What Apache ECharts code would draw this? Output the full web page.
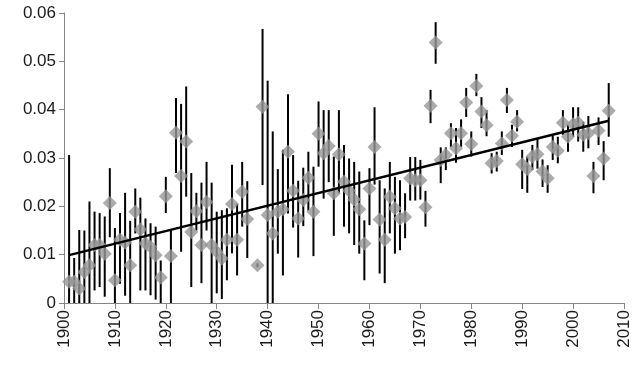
<!DOCTYPE html>
<html>
<head>
<meta charset="utf-8">
<script src="https://cdn.jsdelivr.net/npm/echarts@6/dist/echarts.min.js"></script>
<style>
html,body{margin:0;padding:0;background:#fff;}
#chart{width:640px;height:369px;}
</style>
</head>
<body>
<div id="chart"></div>
<script>
const years = [1901,1902,1903,1904,1905,1906,1907,1908,1909,1910,
  1911,1912,1913,1914,1915,1916,1917,1918,1919,1920,
  1921,1922,1923,1924,1925,1926,1927,1928,1929,1930,
  1931,1932,1933,1934,1935,1936,1938,1939,1940,
  1941,1942,1943,1944,1945,1946,1947,1948,1949,1950,
  1951,1952,1953,1954,1955,1956,1957,1958,1959,1960,
  1961,1962,1963,1964,1965,1966,1967,1968,1969,1970,
  1971,1972,1973,1974,1975,1976,1977,1978,1979,1980,
  1981,1982,1983,1984,1985,1986,1987,1988,1989,1990,
  1991,1992,1993,1994,1995,1996,1997,1998,1999,2000,
  2001,2002,2003,2004,2005,2006,2007];
const values = [0.0044,0.0044,0.0030,0.0064,0.0078,0.0120,0.0120,0.0102,0.0207,0.0047,
  0.0131,0.0125,0.0078,0.0189,0.0152,0.0123,0.0116,0.0099,0.0053,0.0221,
  0.0097,0.0352,0.0263,0.0334,0.0147,0.0190,0.0120,0.0209,0.0120,0.0106,
  0.0092,0.0131,0.0205,0.0131,0.0230,0.0174,0.0078,0.0406,0.0182,
  0.0144,0.0189,0.0194,0.0313,0.0232,0.0175,0.0213,0.0259,0.0189,0.0350,
  0.0310,0.0325,0.0227,0.0308,0.0251,0.0232,0.0214,0.0194,0.0123,0.0237,
  0.0323,0.0173,0.0131,0.0220,0.0196,0.0175,0.0178,0.0258,0.0254,0.0254,
  0.0198,0.0408,0.0539,0.0296,0.0306,0.0351,0.0320,0.0351,0.0415,0.0329,
  0.0449,0.0396,0.0368,0.0289,0.0294,0.0330,0.0420,0.0346,0.0375,0.0287,
  0.0277,0.0303,0.0308,0.0272,0.0258,0.0323,0.0315,0.0373,0.0344,0.0370,
  0.0373,0.0348,0.0351,0.0263,0.0357,0.0299,0.0398];
const lows = [0,0,0,0,0,0.0026,0.0033,0.0013,0.0136,0,
  0.0040,0.0015,0,0.0144,0.0026,0.0026,0.0016,0.0007,0,0.0186,
  0,0.0269,0.0106,0.0220,0.0033,0.0150,0.0041,0.0150,0,0.0020,
  0.0008,0.0047,0.0103,0.0057,0.0158,0.0093,0.0074,0.0244,0,
  0,0.0102,0.0057,0.0185,0.0156,0.0094,0.0159,0.0191,0.0097,0.0282,
  0.0216,0.0250,0.0139,0.0227,0.0158,0.0144,0.0120,0.0102,0.0047,0.0161,
  0.0245,0.0061,0.0041,0.0144,0.0102,0.0109,0.0134,0.0212,0.0212,0.0214,
  0.0158,0.0372,0.0495,0.0248,0.0275,0.0323,0.0290,0.0323,0.0385,0.0303,
  0.0428,0.0362,0.0345,0.0268,0.0272,0.0306,0.0393,0.0323,0.0355,0.0236,
  0.0228,0.0275,0.0278,0.0240,0.0228,0.0296,0.0289,0.0348,0.0313,0.0344,
  0.0334,0.0313,0.0320,0.0227,0.0327,0.0254,0.0344];
const highs = [0.0306,0.0093,0.0151,0.0150,0.0210,0.0189,0.0186,0.0179,0.0279,0.0155,
  0.0186,0.0228,0.0170,0.0237,0.0218,0.0175,0.0165,0.0158,0.0088,0.0261,
  0.0152,0.0424,0.0412,0.0448,0.0269,0.0228,0.0249,0.0292,0.0249,0.0189,
  0.0192,0.0196,0.0286,0.0205,0.0292,0.0252,0.0082,0.0567,0.0460,
  0.0355,0.0277,0.0317,0.0432,0.0306,0.0253,0.0280,0.0313,0.0282,0.0417,
  0.0399,0.0399,0.0303,0.0399,0.0327,0.0299,0.0292,0.0272,0.0171,0.0279,
  0.0405,0.0254,0.0237,0.0292,0.0261,0.0254,0.0227,0.0302,0.0302,0.0296,
  0.0232,0.0441,0.0581,0.0322,0.0322,0.0372,0.0362,0.0380,0.0445,0.0355,
  0.0474,0.0426,0.0399,0.0310,0.0313,0.0355,0.0445,0.0369,0.0399,0.0317,
  0.0303,0.0327,0.0341,0.0297,0.0285,0.0348,0.0344,0.0399,0.0369,0.0405,
  0.0405,0.0375,0.0387,0.0292,0.0384,0.0335,0.0455];
const trendYears = [1901, 2007];
const trendValues = [0.0099, 0.0377];
const xTicks = {min: 1900, max: 2010, step: 10};
const yTicks = {min: 0, max: 0.06, step: 0.01};

const chart = echarts.init(document.getElementById('chart'), null, {renderer: 'canvas'});
const font = 'Liberation Sans, Arial, sans-serif';
const axisColor = '#868686';
chart.setOption({
  animation: false,
  backgroundColor: '#fff',
  grid: {left: 64, right: 16, top: 13, bottom: 66, containLabel: false},
  xAxis: {
    type: 'value', min: xTicks.min, max: xTicks.max, interval: xTicks.step,
    axisLine: {show: true, lineStyle: {color: axisColor, width: 1}},
    axisTick: {show: true, length: 6, lineStyle: {color: axisColor}},
    splitLine: {show: false},
    axisLabel: {rotate: 90, margin: 7, color: '#1a1a1a', fontSize: 17, fontFamily: font,
      formatter: v => String(v)}
  },
  yAxis: {
    type: 'value', min: yTicks.min, max: yTicks.max, interval: yTicks.step,
    axisLine: {show: true, lineStyle: {color: axisColor, width: 1}},
    axisTick: {show: true, length: 5, lineStyle: {color: axisColor}},
    splitLine: {show: false},
    axisLabel: {margin: 8, color: '#1a1a1a', fontSize: 17, fontFamily: font,
      formatter: v => v === 0 ? '0' : v.toFixed(2)}
  },
  series: [
    {
      type: 'custom', z: 1,
      data: years.map((y, i) => [y, lows[i], highs[i]]),
      renderItem: function (params, api) {
        const p1 = api.coord([api.value(0), api.value(1)]);
        const p2 = api.coord([api.value(0), api.value(2)]);
        return {type: 'line', shape: {x1: p1[0], y1: p1[1], x2: p2[0], y2: p2[1]},
          style: {stroke: '#000', lineWidth: 2}};
      }
    },
    {
      type: 'scatter', z: 2, symbol: 'diamond', symbolSize: 14,
      itemStyle: {color: '#969696'},
      data: years.map((y, i) => [y, values[i]])
    },
    {
      type: 'line', z: 3, symbol: 'none',
      lineStyle: {color: '#000', width: 2.5},
      data: trendYears.map((y, i) => [y, trendValues[i]])
    }
  ]
});
</script>
</body>
</html>
